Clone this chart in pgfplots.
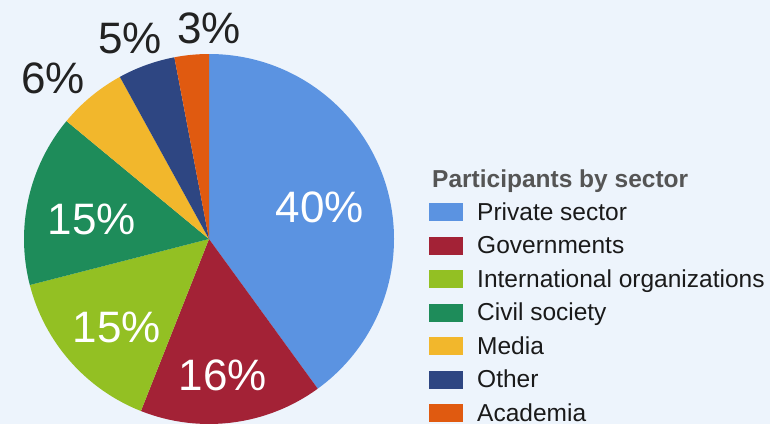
\documentclass[border=0pt]{standalone}
\usepackage{pgfplots}
\usepackage{pgfplotstable}
\pgfplotsset{compat=1.18}
\usepackage{fontspec}
\setmainfont{Liberation Sans}
\definecolor{bg}{HTML}{EDF4FC}
\definecolor{cPriv}{HTML}{5B93E1}
\definecolor{cGov}{HTML}{A32236}
\definecolor{cIntl}{HTML}{93C023}
\definecolor{cCivil}{HTML}{1E8C5A}
\definecolor{cMedia}{HTML}{F2B72C}
\definecolor{cOther}{HTML}{2E4682}
\definecolor{cAcad}{HTML}{E05A10}
\definecolor{txtdark}{HTML}{222222}
\definecolor{legtxt}{HTML}{1A1A1A}
\definecolor{titlegray}{HTML}{555555}
\newcommand\pctfont{\fontsize{44}{44}\selectfont}
\newcommand\legfont{\fontsize{24.5}{24.5}\selectfont}

\pgfplotstableread[col sep=comma]{
sector,value,color,lx,ly,lcol
Private sector,40,cPriv,320,202,white
Governments,16,cGov,223,34,white
International organizations,15,cIntl,117,82,white
Civil society,15,cCivil,92,190,white
Media,6,cMedia,53,331,txtdark
Other,5,cOther,130,371,txtdark
Academia,3,cAcad,209,381,txtdark
}\sectors

\begin{document}
\begin{tikzpicture}
\begin{axis}[scale only axis, width=770pt, height=424pt,
  xmin=0, xmax=770, ymin=0, ymax=424, hide axis, clip=false]
\fill[bg] (axis cs:0,0) rectangle (axis cs:770,424);
\gdef\startA{90}
\pgfplotsforeachungrouped \i in {0,...,6} {
  \pgfplotstablegetelem{\i}{value}\of\sectors \let\sval\pgfplotsretval
  \pgfplotstablegetelem{\i}{color}\of\sectors \let\scol\pgfplotsretval
  \pgfplotstablegetelem{\i}{sector}\of\sectors \let\sname\pgfplotsretval
  \pgfplotstablegetelem{\i}{lx}\of\sectors \let\slx\pgfplotsretval
  \pgfplotstablegetelem{\i}{ly}\of\sectors \let\sly\pgfplotsretval
  \pgfplotstablegetelem{\i}{lcol}\of\sectors \let\slcol\pgfplotsretval
  \pgfmathsetmacro\endA{\startA-3.6*\sval}
  \pgfmathsetmacro\sx{209+185*cos(\startA)}
  \pgfmathsetmacro\sy{185+185*sin(\startA)}
  \pgfmathsetmacro\legy{204-33.5*\i}
  \pgfmathsetmacro\sqa{\legy-1}
  \pgfmathsetmacro\sqb{\legy+17}
  \edef\cmd{%
    \noexpand\fill[\scol] (axis cs:209,185) -- (axis cs:\sx,\sy) arc[start angle=\startA, end angle=\endA, radius=185pt] -- cycle;
    \noexpand\node[anchor=base, inner sep=0pt, text=\slcol, font=\noexpand\pctfont] at (axis cs:\slx,\sly) {\sval\noexpand\%};
    \noexpand\fill[\scol] (axis cs:429,\sqa) rectangle (axis cs:463,\sqb);
    \noexpand\node[anchor=base west, inner sep=0pt, text=legtxt, font=\noexpand\legfont] at (axis cs:477,\legy) {\sname};
  }%
  \cmd
  \xdef\startA{\endA}
}
\node[anchor=base west, inner sep=0pt, text=titlegray, font=\bfseries\legfont] at (axis cs:432,237) {Participants by sector};
\end{axis}
\end{tikzpicture}
\end{document}
